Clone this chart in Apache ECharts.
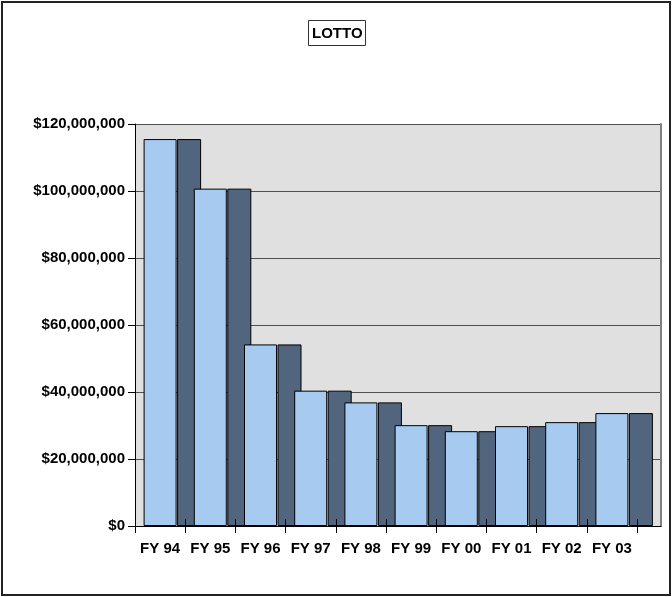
<!DOCTYPE html>
<html>
<head>
<meta charset="utf-8">
<title>LOTTO</title>
<script src="https://cdn.jsdelivr.net/npm/echarts@6/dist/echarts.min.js"></script>
<style>
  html, body { margin: 0; padding: 0; background: #fff; }
  #chart { width: 672px; height: 597px; }
</style>
</head>
<body>
<div id="chart"></div>
<script>
// values (dollars)
const years = ['FY 94', 'FY 95', 'FY 96', 'FY 97', 'FY 98', 'FY 99', 'FY 00', 'FY 01', 'FY 02', 'FY 03'];
const lottoFront = [115.5e6, 100.7e6, 54.2e6, 40.4e6, 36.9e6, 30.1e6, 28.3e6, 29.8e6, 31.0e6, 33.7e6];
const lottoBack = [115.5e6, 100.7e6, 54.2e6, 40.4e6, 36.9e6, 30.1e6, 28.3e6, 29.8e6, 31.0e6, 33.7e6];
const yTicks = [0, 20e6, 40e6, 60e6, 80e6, 100e6, 120e6];

const yMax = yTicks[yTicks.length - 1];
const yStep = yTicks[1] - yTicks[0];

const C = {
  light: '#a6caf0',
  dark: '#52657e',
  plot: '#e0e0e0',
  grid: '#505050',
  edge: '#808080',
  ink: '#000'
};

const FONT = '"Liberation Sans", Arial, sans-serif';
const money = (v) => '$' + Number(v).toLocaleString('en-US');

// plot rectangle (grid 0) is wider than the category band, like the original
const TOP = 124, BOTTOM = 71;
const hiddenY = (gridIndex) => ({
  gridIndex, type: 'value', min: 0, max: yMax, interval: yStep, show: false
});

const option = {
  animation: false,
  backgroundColor: '#fff',
  title: {
    text: 'LOTTO',
    left: 308,
    top: 20,
    padding: [6, 3, 5, 4],
    borderColor: '#333',
    borderWidth: 1,
    textStyle: { fontFamily: FONT, fontSize: 15, fontWeight: 'bold', color: C.ink }
  },
  graphic: [{
    type: 'rect',
    shape: { x: 2, y: 2, width: 668, height: 593 },
    style: { fill: 'none', stroke: '#222', lineWidth: 2 },
    silent: true
  }],
  grid: [
    { left: 135, top: TOP, right: 11, bottom: BOTTOM, show: true, backgroundColor: C.plot, borderWidth: 0, outerBoundsMode: 'none' },
    { left: 135, top: TOP, width: 502, bottom: BOTTOM, outerBoundsMode: 'none' },
    // dark bars sit one step to the right of the light ones
    { left: 164, top: TOP, width: 502, bottom: BOTTOM, outerBoundsMode: 'none' }
  ],
  xAxis: [
    {
      gridIndex: 0, type: 'value', min: 0, max: 1, position: 'bottom',
      axisLine: { show: true, lineStyle: { color: C.ink, width: 1 } },
      axisTick: { show: false }, axisLabel: { show: false }, splitLine: { show: false }
    },
    {
      gridIndex: 1, type: 'category', data: years, position: 'bottom',
      axisLine: { show: false },
      axisTick: { show: true, length: 7, interval: 0, lineStyle: { color: C.ink } },
      axisLabel: { interval: 0, margin: 15, color: C.ink, fontFamily: FONT, fontSize: 15, fontWeight: 'bold' },
      splitLine: { show: false }
    },
    {
      // short ticks poking up into the plot
      gridIndex: 1, type: 'category', data: years, position: 'bottom', z: 5,
      axisLine: { show: false },
      axisTick: { show: true, inside: true, length: 7, interval: 0, lineStyle: { color: C.ink } },
      axisLabel: { show: false }, splitLine: { show: false }
    },
    { gridIndex: 2, type: 'category', data: years, show: false }
  ],
  yAxis: [
    {
      gridIndex: 0, type: 'value', min: 0, max: yMax, interval: yStep,
      axisLine: { show: true, lineStyle: { color: C.ink, width: 1 } },
      axisTick: { show: true, length: 7, lineStyle: { color: C.ink } },
      axisLabel: { margin: 10, color: C.ink, fontFamily: FONT, fontSize: 15, fontWeight: 'bold', formatter: money },
      splitLine: { show: true, lineStyle: { color: C.grid, width: 1 } }
    },
    {
      gridIndex: 0, type: 'value', min: 0, max: yMax, interval: yStep, position: 'right',
      axisLine: { show: true, lineStyle: { color: C.edge, width: 2 } },
      axisTick: { show: false }, axisLabel: { show: false }, splitLine: { show: false }
    },
    hiddenY(1),
    hiddenY(2)
  ],
  series: [
    {
      name: 'LOTTO (back)',
      type: 'bar',
      xAxisIndex: 3,
      yAxisIndex: 3,
      barWidth: 24,
      z: 2,
      itemStyle: { color: C.dark, borderColor: C.ink, borderWidth: 1 },
      data: lottoBack
    },
    {
      name: 'LOTTO',
      type: 'bar',
      xAxisIndex: 1,
      yAxisIndex: 2,
      barWidth: 33,
      z: 3,
      itemStyle: { color: C.light, borderColor: C.ink, borderWidth: 1 },
      data: lottoFront
    }
  ]
};

const chart = echarts.init(document.getElementById('chart'), null, { renderer: 'canvas' });
chart.setOption(option);
</script>
</body>
</html>
